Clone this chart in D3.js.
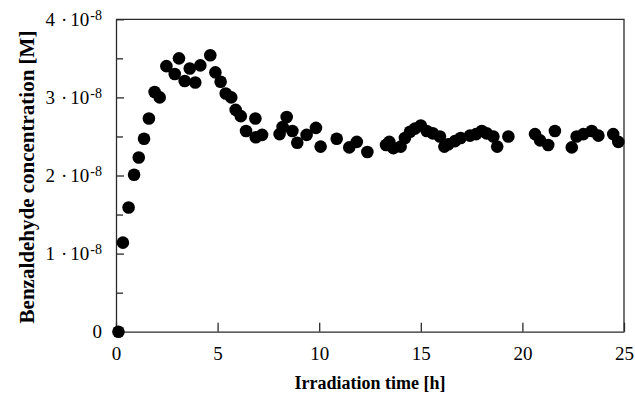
<!DOCTYPE html>
<html>
<head>
<meta charset="utf-8">
<script src="https://cdn.jsdelivr.net/npm/d3@7"></script>
<style>
body { margin: 0; background: #fff; }
text { font-family: "Liberation Serif", "Times New Roman", serif; }
</style>
</head>
<body>
<script>
//data: time in h, concentration in units of 1e-8 M
var hours = [0.12, 0.34, 0.62, 0.89, 1.12, 1.38, 1.62, 1.90, 2.15, 2.48,
    2.89, 3.10, 3.38, 3.63, 3.90, 4.15, 4.64, 4.89, 5.15, 5.40,
    5.67, 5.89, 6.14, 6.40, 6.86, 6.88, 7.19, 8.05, 8.20, 8.40,
    8.68, 8.92, 9.38, 9.84, 10.07, 10.86, 11.48, 11.85, 12.37, 13.29,
    13.45, 13.65, 14.01, 14.22, 14.47, 14.71, 15.00, 15.29, 15.59, 15.94,
    16.16, 16.35, 16.68, 16.96, 17.42, 17.72, 18.00, 18.24, 18.57, 18.76,
    19.31, 20.62, 20.87, 21.27, 21.60, 22.43, 22.67, 23.00, 23.41, 23.74,
    24.47, 24.72];
var conc = [0.00, 1.14, 1.59, 2.01, 2.23, 2.47, 2.73, 3.07, 3.00, 3.40,
    3.30, 3.50, 3.21, 3.37, 3.19, 3.41, 3.54, 3.32, 3.20, 3.05,
    3.00, 2.84, 2.76, 2.57, 2.73, 2.49, 2.52, 2.53, 2.62, 2.75,
    2.57, 2.42, 2.52, 2.61, 2.37, 2.47, 2.36, 2.43, 2.30, 2.39,
    2.43, 2.35, 2.37, 2.48, 2.56, 2.60, 2.64, 2.57, 2.54, 2.50,
    2.37, 2.40, 2.44, 2.48, 2.51, 2.53, 2.57, 2.54, 2.50, 2.37,
    2.50, 2.53, 2.45, 2.39, 2.57, 2.36, 2.50, 2.53, 2.57, 2.51,
    2.53, 2.43];
var xTicks = [0, 5, 10, 15, 20, 25];
var yTicks = [0, 1, 2, 3, 4];
var yMinorTicks = [0.5, 1.5, 2.5, 3.5];

var width = 635;
var height = 395;
var plotLeft = 116, plotRight = 624, plotTop = 19.3, plotBottom = 331.7;
var lineColor = "#2a2a2a";
var tickFont = 19;

var svg = d3.select("body").append("svg")
    .attr("width", width)
    .attr("height", height);

var x = d3.scaleLinear().domain([0, 25]).range([plotLeft, plotRight]);
var y = d3.scaleLinear().domain([0, 4]).range([plotBottom, plotTop]);

//frame (top and right)
svg.append("path")
    .attr("d", "M" + plotLeft + "," + plotTop + "H" + plotRight + "V" + plotBottom)
    .attr("fill", "none")
    .attr("stroke", lineColor)
    .attr("stroke-width", 1.3);

//x axis, ticks pointing inside
var xAxis = svg.append("g")
    .attr("transform", "translate(0," + plotBottom + ")")
    .call(d3.axisBottom(x).tickValues(xTicks).tickSize(-9).tickSizeOuter(0).tickPadding(15));

//y axis with minor ticks
var yAxis = svg.append("g")
    .attr("transform", "translate(" + plotLeft + ",0)")
    .call(d3.axisLeft(y).tickValues(yTicks).tickSize(-8).tickSizeOuter(0).tickPadding(14));

svg.append("g")
    .attr("transform", "translate(" + plotLeft + ",0)")
    .call(d3.axisLeft(y).tickValues(yMinorTicks).tickSize(-7).tickSizeOuter(0).tickFormat(""))
    .select(".domain").remove();

svg.selectAll(".domain, .tick line")
    .attr("stroke", lineColor)
    .attr("stroke-width", 1.3);

xAxis.selectAll("text")
    .style("font-size", tickFont + "px")
    .attr("fill", "#000");

//y labels like "3 ·10^-8"
yAxis.selectAll("text")
    .style("font-size", tickFont + "px")
    .attr("fill", "#000")
    .each(function(d){
        var t = d3.select(this).text("");
        if(d === 0){
            t.text("0");
            return;
        }
        t.append("tspan").text(d);
        t.append("tspan").attr("dx", 6).text("\u00b7");
        t.append("tspan").attr("dx", 3).text("10");
        t.append("tspan")
            .attr("dx", 1)
            .attr("dy", "-0.42em")
            .style("font-size", "14px")
            .text("-8");
    });

//points
svg.append("g").selectAll("circle")
    .data(hours)
    .enter()
    .append("circle")
    .attr("cx", function(d){ return x(d); })
    .attr("cy", function(d, i){ return y(conc[i]); })
    .attr("r", 6.3)
    .attr("fill", "#000");

//axis titles
svg.append("text")
    .attr("x", (plotLeft + plotRight) / 2)
    .attr("y", 389)
    .attr("text-anchor", "middle")
    .style("font-size", "18px")
    .style("font-weight", "bold")
    .text("Irradiation time [h]");

svg.append("text")
    .attr("transform", "translate(34," + 177 + ") rotate(-90)")
    .attr("text-anchor", "middle")
    .style("font-size", "21px")
    .style("font-weight", "bold")
    .text("Benzaldehyde concentration [M]");
</script>
</body>
</html>
